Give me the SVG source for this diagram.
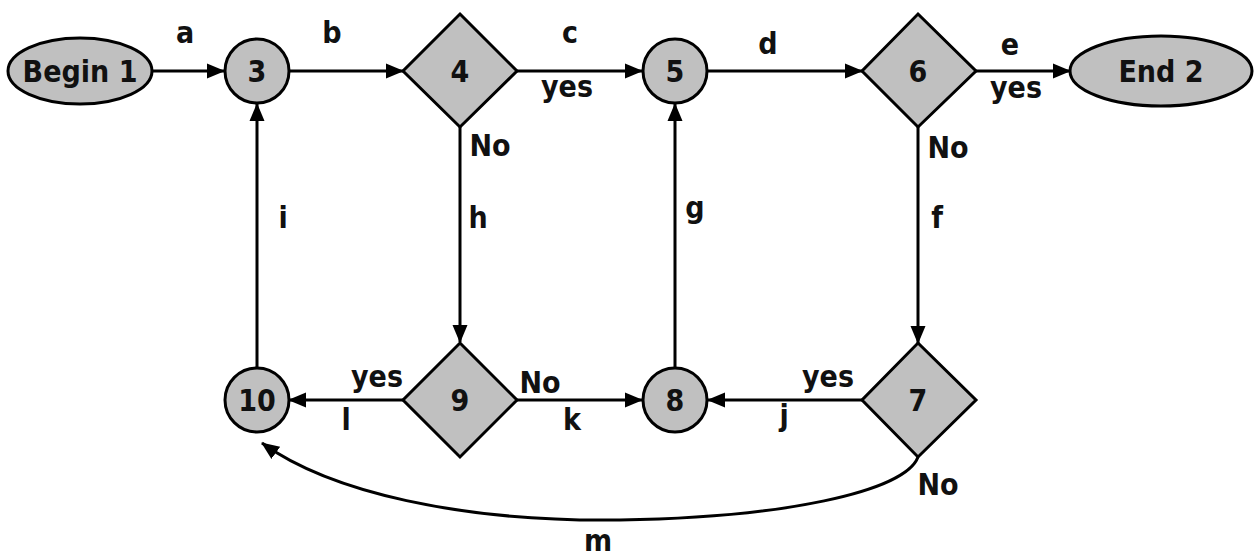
<svg xmlns="http://www.w3.org/2000/svg" width="1259" height="557" viewBox="0 0 1259 557">
<defs>
<marker id="ah" markerUnits="userSpaceOnUse" markerWidth="18" markerHeight="18" viewBox="0 0 18 18" refX="17" refY="9" orient="auto">
<path d="M0,1.5 L18,9 L0,16.5 Z" fill="#000"/>
</marker>
</defs>
<style>
.n{fill:#c0c0c0;stroke:#000;stroke-width:3}
.t{font-family:"DejaVu Sans Condensed","DejaVu Sans",sans-serif;font-weight:bold;font-size:30px;fill:#111;text-anchor:middle}
.e{stroke:#000;stroke-width:3;fill:none;marker-end:url(#ah)}
</style>
<rect width="1259" height="557" fill="#fff"/>
<g id="connectors">
<line class="e" x1="153" y1="71" x2="224" y2="71"/>
<line class="e" x1="290" y1="71" x2="403" y2="71"/>
<line class="e" x1="517" y1="71" x2="642" y2="71"/>
<line class="e" x1="708" y1="71" x2="862" y2="71"/>
<line class="e" x1="976" y1="71" x2="1070" y2="71"/>
<line class="e" x1="460" y1="127" x2="460" y2="342"/>
<line class="e" x1="675" y1="367" x2="675" y2="104"/>
<line class="e" x1="918" y1="127" x2="918" y2="343"/>
<line class="e" x1="257" y1="367" x2="257" y2="104"/>
<line class="e" x1="403" y1="400" x2="289" y2="400"/>
<line class="e" x1="517" y1="400" x2="642" y2="400"/>
<line class="e" x1="862" y1="400" x2="708" y2="400"/>
<path class="e" d="M918,457 C905,492 780,518 620,520 C460,522 330,492 262,443"/>
<text class="t" x="185" y="43">a</text>
<text class="t" x="332" y="43">b</text>
<text class="t" x="570" y="43">c</text>
<text class="t" x="567" y="97">yes</text>
<text class="t" x="768" y="54">d</text>
<text class="t" x="1010" y="55">e</text>
<text class="t" x="1016" y="98">yes</text>
<text class="t" x="490" y="156">No</text>
<text class="t" x="948" y="158">No</text>
<text class="t" x="283" y="228">i</text>
<text class="t" x="478" y="228">h</text>
<text class="t" x="695" y="218">g</text>
<text class="t" x="937" y="228">f</text>
<text class="t" x="377" y="387">yes</text>
<text class="t" x="346" y="430">l</text>
<text class="t" x="540" y="393">No</text>
<text class="t" x="572" y="430">k</text>
<text class="t" x="828" y="387">yes</text>
<text class="t" x="784" y="426">j</text>
<text class="t" x="938" y="495">No</text>
<text class="t" x="598" y="551">m</text>
</g>
<g id="n1"><ellipse class="n" cx="80" cy="71" rx="72" ry="33"/><text class="t" x="80" y="82">Begin 1</text></g>
<g id="n3"><circle class="n" cx="257" cy="71" r="32"/><text class="t" x="257" y="82">3</text></g>
<g id="n4"><polygon class="n" points="460,14 517,71 460,127 403,71"/><text class="t" x="460" y="82">4</text></g>
<g id="n5"><circle class="n" cx="675" cy="71" r="32"/><text class="t" x="675" y="82">5</text></g>
<g id="n6"><polygon class="n" points="918,14 976,71 918,127 862,71"/><text class="t" x="918" y="82">6</text></g>
<g id="n2"><ellipse class="n" cx="1161" cy="71" rx="91" ry="35"/><text class="t" x="1161" y="82">End 2</text></g>
<g id="n10"><circle class="n" cx="257" cy="400" r="32"/><text class="t" x="257" y="411">10</text></g>
<g id="n9"><polygon class="n" points="460,343 517,400 460,457 403,400"/><text class="t" x="460" y="411">9</text></g>
<g id="n8"><circle class="n" cx="675" cy="400" r="32"/><text class="t" x="675" y="411">8</text></g>
<g id="n7"><polygon class="n" points="918,343 976,400 918,457 862,400"/><text class="t" x="918" y="411">7</text></g>
</svg>
